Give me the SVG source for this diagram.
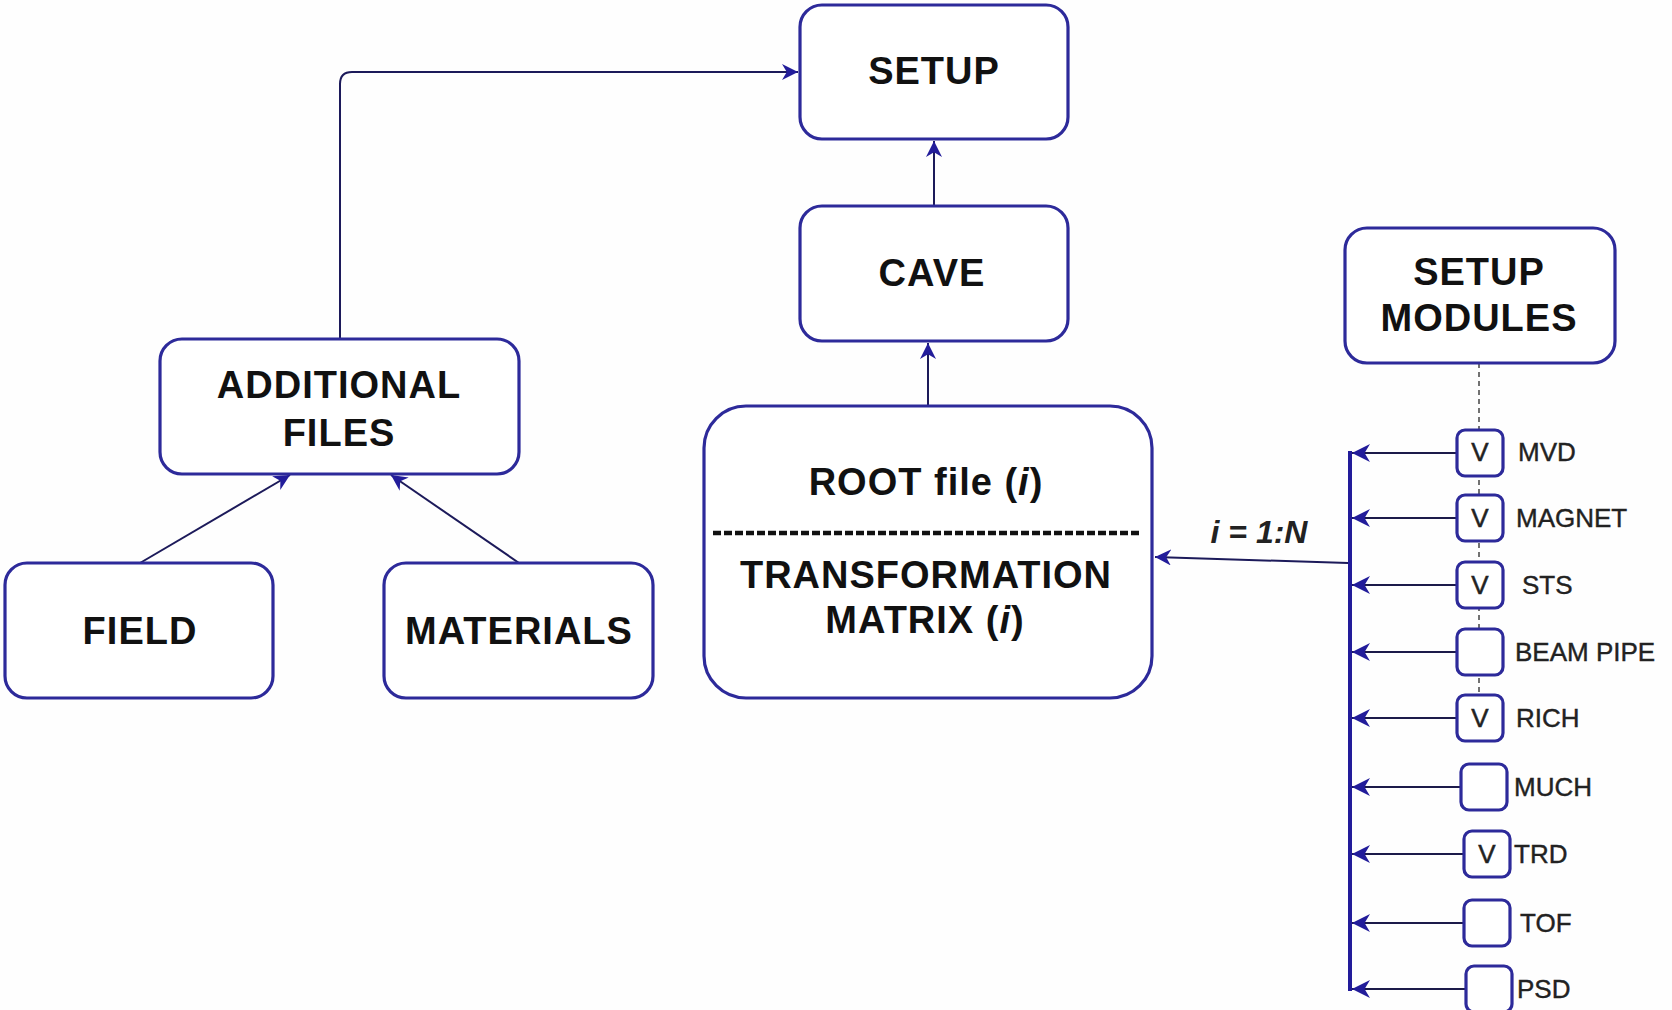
<svg xmlns="http://www.w3.org/2000/svg" width="1672" height="1010" viewBox="0 0 1672 1010">
<style>
.box{fill:#ffffff;stroke:#2d2a9a;stroke-width:3.2}
.t{font-family:"Liberation Sans",Arial,sans-serif;font-weight:bold;font-size:38px;fill:#111;text-anchor:middle;letter-spacing:1px}
.m{font-family:"Liberation Sans",Arial,sans-serif;font-size:26px;fill:#222;stroke:#222;stroke-width:0.4}
.v{font-family:"Liberation Sans",Arial,sans-serif;font-size:26px;fill:#222;stroke:#222;stroke-width:0.5;text-anchor:middle}
.ln{fill:none;stroke:#1c1a5a;stroke-width:2}
.hl{fill:none;stroke:#1c1a4a;stroke-width:2.2}
.cb{fill:#ffffff;stroke:#2d2a9a;stroke-width:3.2}
</style>
<defs>
<marker id="ahb" viewBox="0 0 10 10" refX="10" refY="5" markerWidth="16" markerHeight="16" markerUnits="userSpaceOnUse" orient="auto">
<path d="M0,0 L10,5 L0,10 L3,5 z" fill="#221c9a"/>
</marker>
<marker id="ahc" viewBox="0 0 10 10" refX="10" refY="5" markerWidth="18" markerHeight="18" markerUnits="userSpaceOnUse" orient="auto">
<path d="M0,0 L10,5 L0,10 L3,5 z" fill="#221c9a"/>
</marker>
</defs>
<rect x="0" y="0" width="1672" height="1010" fill="#fefefe"/>

<g id="connectors">
<path class="ln" d="M340,339 V84 Q340,72 352,72 H798" marker-end="url(#ahb)"/>
<line class="ln" x1="934" y1="206" x2="934" y2="141" marker-end="url(#ahb)"/>
<line class="ln" x1="928" y1="406" x2="928" y2="343" marker-end="url(#ahb)"/>
<line class="ln" x1="140" y1="563" x2="290" y2="475" marker-end="url(#ahb)"/>
<line class="ln" x1="519" y1="563" x2="391" y2="475" marker-end="url(#ahb)"/>
<line class="ln" x1="1348" y1="563" x2="1155" y2="557" marker-end="url(#ahb)"/>
<line x1="1479" y1="363" x2="1479" y2="695" stroke="#444" stroke-width="1.5" stroke-dasharray="5,4"/>
<line x1="1350" y1="451" x2="1350" y2="991" stroke="#221c9a" stroke-width="4"/>
<line class="hl" x1="1457" y1="453" x2="1352" y2="453" marker-end="url(#ahc)"/>
<line class="hl" x1="1457" y1="518" x2="1352" y2="518" marker-end="url(#ahc)"/>
<line class="hl" x1="1457" y1="585" x2="1352" y2="585" marker-end="url(#ahc)"/>
<line class="hl" x1="1457" y1="652" x2="1352" y2="652" marker-end="url(#ahc)"/>
<line class="hl" x1="1457" y1="718" x2="1352" y2="718" marker-end="url(#ahc)"/>
<line class="hl" x1="1461" y1="787" x2="1352" y2="787" marker-end="url(#ahc)"/>
<line class="hl" x1="1464" y1="854" x2="1352" y2="854" marker-end="url(#ahc)"/>
<line class="hl" x1="1464" y1="923" x2="1352" y2="923" marker-end="url(#ahc)"/>
<line class="hl" x1="1466" y1="989" x2="1352" y2="989" marker-end="url(#ahc)"/>
<text x="1259" y="543" font-family="Liberation Sans, Arial, sans-serif" font-size="32" font-weight="bold" font-style="italic" fill="#222" text-anchor="middle">i = 1:N</text>
</g>

<g id="setup"><rect class="box" x="800" y="5" width="268" height="134" rx="22"/><text class="t" x="934" y="84">SETUP</text></g>
<g id="cave"><rect class="box" x="800" y="206" width="268" height="135" rx="22"/><text class="t" x="932" y="286">CAVE</text></g>
<g id="additional-files"><rect class="box" x="160" y="339" width="359" height="135" rx="22"/><text class="t" x="339" y="398">ADDITIONAL</text><text class="t" x="339" y="446">FILES</text></g>
<g id="field"><rect class="box" x="5" y="563" width="268" height="135" rx="22"/><text class="t" x="140" y="644">FIELD</text></g>
<g id="materials"><rect class="box" x="384" y="563" width="269" height="135" rx="22"/><text class="t" x="519" y="644">MATERIALS</text></g>
<g id="root-file"><rect class="box" x="704" y="406" width="448" height="292" rx="42"/>
<text class="t" x="926" y="495">ROOT file (<tspan font-style="italic">i</tspan>)</text>
<line x1="713" y1="533" x2="1140" y2="533" stroke="#111" stroke-width="4.5" stroke-dasharray="8,3"/>
<text class="t" x="926" y="588">TRANSFORMATION</text>
<text class="t" x="925" y="633">MATRIX (<tspan font-style="italic">i</tspan>)</text></g>
<g id="setup-modules"><rect class="box" x="1345" y="228" width="270" height="135" rx="22"/><text class="t" x="1479" y="285">SETUP</text><text class="t" x="1479" y="331">MODULES</text></g>

<g id="mvd"><rect class="cb" x="1457" y="430" width="46" height="46" rx="8"/><text class="v" x="1480" y="461">V</text><text class="m" x="1518" y="461">MVD</text></g>
<g id="magnet"><rect class="cb" x="1457" y="495" width="46" height="46" rx="8"/><text class="v" x="1480" y="527">V</text><text class="m" x="1516" y="527">MAGNET</text></g>
<g id="sts"><rect class="cb" x="1457" y="562" width="46" height="46" rx="8"/><text class="v" x="1480" y="594">V</text><text class="m" x="1522" y="594">STS</text></g>
<g id="beam-pipe"><rect class="cb" x="1457" y="629" width="46" height="46" rx="8"/><text class="m" x="1515" y="661">BEAM PIPE</text></g>
<g id="rich"><rect class="cb" x="1457" y="695" width="46" height="46" rx="8"/><text class="v" x="1480" y="727">V</text><text class="m" x="1516" y="727">RICH</text></g>
<g id="much"><rect class="cb" x="1461" y="764" width="46" height="46" rx="8"/><text class="m" x="1514" y="796">MUCH</text></g>
<g id="trd"><rect class="cb" x="1464" y="831" width="46" height="46" rx="8"/><text class="v" x="1487" y="863">V</text><text class="m" x="1514" y="863">TRD</text></g>
<g id="tof"><rect class="cb" x="1464" y="900" width="46" height="46" rx="8"/><text class="m" x="1520" y="932">TOF</text></g>
<g id="psd"><rect class="cb" x="1466" y="966" width="46" height="46" rx="8"/><text class="m" x="1517" y="998">PSD</text></g>
</svg>
